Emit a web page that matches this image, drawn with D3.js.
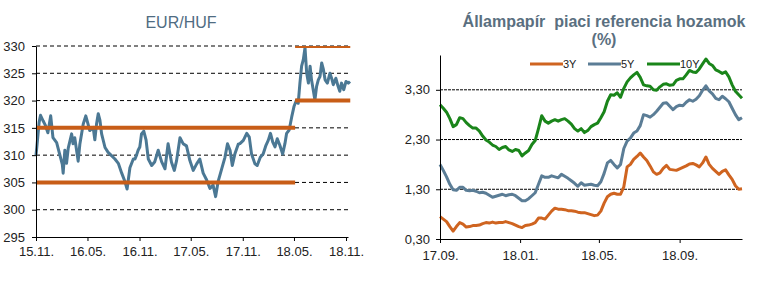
<!DOCTYPE html>
<html>
<head>
<meta charset="utf-8">
<script src="https://cdn.jsdelivr.net/npm/d3@7"></script>
<style>
  body { margin: 0; background: #fff; }
  text { font-family: "Liberation Sans", Arial, sans-serif; }
</style>
</head>
<body>
<div id="infovis"></div>
<script>
// ---- EUR/HUF data ----
var hufDates = ["2015-11-01","2015-11-04","2015-11-12","2015-11-17","2015-11-26","2015-12-03","2015-12-13","2015-12-23","2015-12-31",
  "2016-01-13","2016-01-24","2016-02-02","2016-02-05","2016-02-11","2016-02-17","2016-02-23","2016-03-06","2016-03-11","2016-03-17",
  "2016-03-29","2016-04-04","2016-04-16","2016-04-25","2016-05-03","2016-05-09","2016-05-21","2016-05-27","2016-06-02","2016-06-08",
  "2016-06-14","2016-06-20","2016-07-02","2016-07-13","2016-07-25","2016-08-06","2016-08-18","2016-08-30","2016-09-10","2016-09-18",
  "2016-09-28","2016-10-10","2016-10-16","2016-10-22","2016-10-27","2016-11-02","2016-11-08","2016-11-16","2016-11-24","2016-12-02",
  "2016-12-14","2016-12-25","2017-01-06","2017-01-18","2017-01-30","2017-02-10","2017-02-22","2017-03-04","2017-03-12","2017-03-24",
  "2017-04-04","2017-04-16","2017-04-28","2017-05-10","2017-05-22","2017-06-02","2017-06-14","2017-06-26","2017-07-08","2017-07-19",
  "2017-07-28","2017-08-06","2017-08-18","2017-08-30","2017-09-08","2017-09-17","2017-09-25","2017-10-04","2017-10-16","2017-10-22",
  "2017-11-03","2017-11-15","2017-11-24","2017-12-02","2017-12-14","2017-12-22","2018-01-02","2018-01-12","2018-01-22","2018-01-30",
  "2018-02-07","2018-02-15","2018-02-23","2018-03-03","2018-03-12","2018-03-22","2018-03-30","2018-04-05","2018-04-14","2018-04-23",
  "2018-05-01","2018-05-10","2018-05-16","2018-05-22","2018-05-28","2018-06-03","2018-06-09","2018-06-15","2018-06-21","2018-06-27",
  "2018-07-02","2018-07-08","2018-07-14","2018-07-20","2018-07-26","2018-08-01","2018-08-07","2018-08-13","2018-08-19","2018-08-27",
  "2018-09-05","2018-09-11","2018-09-17","2018-09-26","2018-10-04","2018-10-10","2018-10-16","2018-10-24","2018-11-01","2018-11-09",
  "2018-11-15"];
var hufValues = [310.0,311.5,316.0,317.3,316.3,315.6,314.1,317.2,313.2,
  312.3,310.1,308.3,306.7,310.9,308.5,311.3,313.9,312.1,313.2,
  308.9,312.0,315.7,317.2,315.7,314.5,315.1,312.8,315.7,317.6,
  316.4,313.9,311.4,310.5,309.9,309.3,308.5,306.7,305.2,303.8,
  307.7,309.3,309.3,310.1,310.9,311.5,313.9,314.4,312.8,309.3,
  308.1,308.8,310.9,308.8,307.5,312.1,308.7,307.2,309.0,313.2,
  312.1,311.7,309.0,307.2,308.4,309.3,306.7,305.5,303.9,304.5,
  302.4,305.2,307.4,309.6,312.1,310.9,308.1,310.2,312.0,312.1,
  312.7,314.0,313.3,310.2,308.4,308.1,309.6,310.2,311.8,312.7,
  314.0,312.4,311.5,313.0,311.8,310.2,312.1,314.0,314.6,317.0,
  318.9,320.1,319.5,323.2,326.3,327.5,329.7,325.0,323.2,326.3,
  323.8,322.0,320.1,322.6,323.8,324.4,326.9,325.7,323.8,323.2,
  325.0,324.1,322.9,324.1,322.6,321.7,323.2,322.0,323.5,323.2,
  323.5];
// orange corridor lines
var hufBandFrom = ["2015-11-01","2015-11-01","2018-05-05","2018-05-05"];
var hufBandTo = ["2018-05-05","2018-05-05","2018-11-16","2018-11-16"];
var hufBandValue = [315, 305, 330, 320];
var hufTickDates = ["2015-11-01","2016-05-01","2016-11-01","2017-05-01","2017-11-01","2018-05-01","2018-11-01"];
var hufTickLabels = ["15.11.","16.05.","16.11.","17.05.","17.11.","18.05.","18.11."];
var hufYTicks = [295, 300, 305, 310, 315, 320, 325, 330];

// ---- yields data (every 5 days from 2017-09-01) ----
var yieldStart = "2017-09-01";
var yieldStepDays = 5;
var y3 = [0.75,0.70,0.65,0.55,0.46,0.55,0.63,0.60,0.54,0.55,0.57,0.57,0.58,0.61,0.63,0.62,0.64,0.62,0.63,0.63,
  0.65,0.63,0.61,0.58,0.55,0.53,0.57,0.58,0.60,0.63,0.72,0.72,0.70,0.78,0.86,0.92,0.90,0.90,0.89,0.87,
  0.87,0.86,0.84,0.83,0.83,0.81,0.79,0.77,0.78,0.86,1.02,1.15,1.20,1.22,1.20,1.20,1.35,1.75,1.80,1.90,
  1.96,2.03,1.95,1.88,1.77,1.65,1.60,1.63,1.72,1.78,1.70,1.69,1.68,1.71,1.74,1.77,1.81,1.82,1.79,1.75,
  1.83,1.95,1.80,1.72,1.66,1.60,1.66,1.69,1.59,1.50,1.37,1.30,1.31];
var y5 = [1.80,1.68,1.55,1.40,1.29,1.28,1.34,1.34,1.28,1.27,1.28,1.26,1.23,1.24,1.22,1.18,1.14,1.16,1.18,1.20,
  1.17,1.19,1.20,1.17,1.12,1.07,1.07,1.11,1.17,1.23,1.40,1.57,1.54,1.54,1.57,1.55,1.53,1.60,1.56,1.52,
  1.47,1.42,1.36,1.43,1.38,1.39,1.40,1.38,1.37,1.45,1.62,1.83,1.88,1.80,1.73,1.80,2.12,2.27,2.33,2.43,
  2.47,2.58,2.80,2.78,2.75,2.80,2.87,2.95,3.03,3.04,2.97,2.90,2.96,2.99,2.98,3.05,3.10,3.07,3.11,3.18,
  3.29,3.38,3.28,3.22,3.13,3.10,3.17,3.12,3.06,2.93,2.80,2.70,2.74];
var y10 = [3.00,2.93,2.85,2.72,2.56,2.60,2.74,2.72,2.64,2.58,2.53,2.53,2.47,2.37,2.29,2.25,2.19,2.16,2.10,2.14,
  2.16,2.09,2.06,2.10,2.08,1.97,2.03,2.08,2.20,2.28,2.52,2.78,2.67,2.63,2.67,2.70,2.67,2.70,2.72,2.67,
  2.61,2.52,2.47,2.52,2.44,2.48,2.56,2.60,2.63,2.74,2.86,3.07,3.20,3.19,3.24,3.15,3.33,3.46,3.54,3.60,
  3.65,3.55,3.40,3.38,3.37,3.30,3.29,3.36,3.41,3.42,3.39,3.40,3.49,3.52,3.52,3.60,3.69,3.66,3.65,3.72,
  3.82,3.92,3.83,3.79,3.70,3.67,3.63,3.66,3.56,3.40,3.27,3.20,3.13];
var yieldNames = ["3Y", "5Y", "10Y"];
var yieldColors = ["#cf6420", "#5b7d96", "#1a851a"];
var yieldTickDates = ["2017-09-01","2018-01-01","2018-05-01","2018-09-01"];
var yieldTickLabels = ["17.09.","18.01.","18.05.","18.09."];
var yieldYTicks = [0.3, 1.3, 2.3, 3.3];

var parse = d3.timeParse("%Y-%m-%d");
var width = 777, height = 292;

var svg = d3.select("#infovis").append("svg")
    .attr("width", width)
    .attr("height", height)
    .style("display", "block");

// ================= left chart: EUR/HUF =================
var lx = d3.scaleTime()
    .domain([parse("2015-11-01"), parse("2018-11-08")])
    .range([36, 348]);
var ly = d3.scaleLinear()
    .domain([295, 330])
    .range([237, 46]);

svg.append("text")
    .attr("x", 181).attr("y", 28)
    .attr("text-anchor", "middle")
    .style("font-size", "16px")
    .style("fill", "#4f6c82")
    .text("EUR/HUF");

svg.append("clipPath").attr("id", "clipL")
    .append("rect").attr("x", 36).attr("y", 46).attr("width", 320).attr("height", 191);

// dashed grid
svg.append("g").selectAll("line")
    .data(hufYTicks.filter(function(d){ return d > 295; }))
    .enter().append("line")
    .attr("x1", 36).attr("x2", 348)
    .attr("y1", function(d){ return ly(d); })
    .attr("y2", function(d){ return ly(d); })
    .attr("stroke", "#000")
    .attr("stroke-width", 1)
    .attr("stroke-dasharray", "4,3");

var hufLine = d3.line()
    .x(function(d, i){ return lx(parse(hufDates[i])); })
    .y(function(d){ return ly(d); });

svg.append("path")
    .datum(hufValues)
    .attr("d", hufLine)
    .attr("fill", "none")
    .attr("stroke", "#4b7894")
    .attr("stroke-width", 3)
    .attr("stroke-linejoin", "round");

svg.append("g").attr("clip-path", "url(#clipL)")
    .selectAll("line")
    .data(hufBandValue)
    .enter().append("line")
    .attr("x1", function(d, i){ return lx(parse(hufBandFrom[i])); })
    .attr("x2", function(d, i){ return lx(parse(hufBandTo[i])); })
    .attr("y1", function(d){ return ly(d); })
    .attr("y2", function(d){ return ly(d); })
    .attr("stroke", "#c85d17")
    .attr("stroke-width", 4);

var lxAxis = svg.append("g")
    .attr("transform", "translate(0," + 237 + ")")
    .call(d3.axisBottom(lx)
        .tickValues(hufTickDates.map(parse))
        .tickFormat(function(d, i){ return hufTickLabels[i]; })
        .tickSize(4).tickPadding(6).tickSizeOuter(0));
var lyAxis = svg.append("g")
    .attr("transform", "translate(36,0)")
    .call(d3.axisLeft(ly)
        .tickValues(hufYTicks)
        .tickFormat(d3.format("d"))
        .tickSize(4).tickPadding(7).tickSizeOuter(0));

// ================= right chart: yields =================
var start = parse(yieldStart);
var yieldDates = y3.map(function(d, i){ return d3.timeDay.offset(start, i * yieldStepDays); });

var rx = d3.scaleTime()
    .domain([parse("2017-09-01"), parse("2018-12-05")])
    .range([440, 742]);
var ry = d3.scaleLinear()
    .domain([0.3, 4.0])
    .range([239, 55]);

var title = svg.append("text")
    .attr("text-anchor", "middle")
    .style("font-size", "16px")
    .style("font-weight", "bold")
    .style("fill", "#5a6f80")
    .style("white-space", "pre");
title.append("tspan").attr("x", 604).attr("y", 27).text("Állampapír  piaci referencia hozamok");
title.append("tspan").attr("x", 604).attr("y", 45).text("(%)");

svg.append("g").selectAll("line")
    .data(yieldYTicks.filter(function(d){ return d > 0.3; }))
    .enter().append("line")
    .attr("x1", 440).attr("x2", 742)
    .attr("y1", function(d){ return ry(d); })
    .attr("y2", function(d){ return ry(d); })
    .attr("stroke", "#000")
    .attr("stroke-width", 1)
    .attr("stroke-dasharray", "3,1");

var yieldLine = d3.line()
    .x(function(d, i){ return rx(yieldDates[i]); })
    .y(function(d){ return ry(d); });

[y3, y5, y10].forEach(function(series, k){
    svg.append("path")
        .datum(series)
        .attr("d", yieldLine)
        .attr("fill", "none")
        .attr("stroke", yieldColors[k])
        .attr("stroke-width", 3)
        .attr("stroke-linejoin", "round");
});

svg.append("g")
    .attr("transform", "translate(0," + 239 + ")")
    .call(d3.axisBottom(rx)
        .tickValues(yieldTickDates.map(parse))
        .tickFormat(function(d, i){ return yieldTickLabels[i]; })
        .tickSize(4).tickPadding(8).tickSizeOuter(0));
svg.append("g")
    .attr("transform", "translate(440,0)")
    .call(d3.axisLeft(ry)
        .tickValues(yieldYTicks)
        .tickFormat(function(d){ return d3.format(".2f")(d).replace(".", ","); })
        .tickSize(4).tickPadding(6).tickSizeOuter(0));

// legend
var legendX = [530, 588, 647];
var leg = svg.append("g").selectAll("g")
    .data(yieldNames)
    .enter().append("g")
    .attr("transform", function(d, i){ return "translate(" + legendX[i] + ",64)"; });
leg.append("line")
    .attr("x1", 0).attr("x2", 33)
    .attr("stroke", function(d, i){ return yieldColors[i]; })
    .attr("stroke-width", 3);
leg.append("text")
    .attr("x", 33).attr("y", 4)
    .style("font-size", "11px")
    .style("fill", "#222")
    .text(function(d){ return d; });

// axis styling
svg.selectAll(".domain").attr("stroke", "#000");
svg.selectAll(".tick line").attr("stroke", "#000");
svg.selectAll(".tick text")
    .style("font-size", "13px")
    .style("fill", "#222")
    .attr("font-family", null);
</script>
</body>
</html>
